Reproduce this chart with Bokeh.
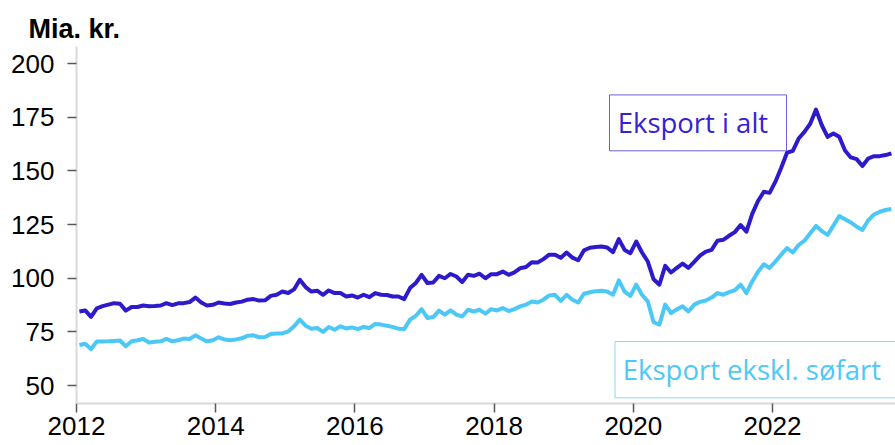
import pandas as pd
from bokeh.plotting import figure
from bokeh.models import Range1d, FixedTicker, Label, BasicTickFormatter
from bokeh.embed import file_html
from bokeh.resources import INLINE

# Monthly data, Jan 2012 - Sep 2023 (Mia. kr.)
start_month = "2012-01"
n_months = 141
eksport_i_alt = [
    84.5, 85.0, 82.0, 86.0, 87.0, 87.7, 88.4, 88.1, 84.9, 86.6, 86.6, 87.3,
    87.0, 87.1, 87.3, 88.4, 87.5, 88.3, 88.4, 88.9, 91.0, 88.7, 87.3, 87.6,
    88.7, 88.2, 88.0, 88.7, 89.1, 90.0, 90.3, 89.6, 89.7, 91.8, 92.3, 93.8,
    93.1, 94.8, 99.3, 95.9, 93.8, 94.2, 92.3, 94.3, 93.1, 93.1, 91.5, 92.0,
    91.0, 92.3, 91.2, 93.1, 92.3, 92.2, 91.5, 91.5, 90.3, 95.4, 97.8, 101.6,
    97.8, 98.0, 101.1, 100.0, 102.0, 100.8, 98.2, 101.6, 101.1, 102.1, 100.0, 101.9,
    101.9, 103.1, 101.6, 102.7, 104.7, 105.2, 107.5, 107.3, 108.9, 111.0, 111.0, 109.5,
    112.0, 109.6, 108.4, 113.0, 114.2, 114.6, 114.8, 114.3, 112.2, 118.2, 113.2, 111.7,
    117.1, 112.0, 107.8, 99.5, 97.0, 105.8, 102.7, 104.8, 106.8, 104.8, 107.6, 110.5,
    112.4, 113.2, 117.5, 117.9, 119.8, 121.5, 124.8, 121.7, 130.0, 136.0, 140.3, 139.8,
    145.0, 151.5, 158.5, 159.4, 165.1, 168.2, 172.0, 178.6, 171.3, 165.9, 167.5, 165.9,
    159.5, 156.3, 155.5, 152.3, 155.8, 156.9, 156.9, 157.4, 158.2,
]
eksport_ekskl_sofart = [
    68.9, 69.5, 67.0, 70.5, 70.5, 70.6, 70.8, 71.0, 68.3, 70.6, 71.1, 71.7,
    70.1, 70.4, 70.6, 71.7, 70.6, 71.1, 71.9, 71.7, 73.4, 71.9, 70.6, 71.1,
    72.5, 71.5, 71.1, 71.5, 72.0, 73.2, 73.4, 72.5, 72.6, 74.0, 74.2, 74.3,
    75.2, 77.6, 80.7, 77.9, 76.5, 76.8, 75.0, 77.3, 76.0, 77.6, 76.6, 77.1,
    76.3, 77.3, 76.8, 78.7, 78.4, 77.9, 77.3, 76.5, 76.3, 80.7, 82.5, 85.6,
    81.5, 81.9, 84.9, 83.0, 85.0, 83.0, 82.2, 85.3, 84.5, 85.3, 83.5, 85.6,
    85.0, 86.1, 84.7, 85.6, 86.9, 87.7, 89.2, 88.7, 90.0, 92.0, 92.3, 89.5,
    92.3, 90.0, 88.7, 92.8, 93.5, 93.9, 94.2, 93.8, 92.3, 99.0, 93.8, 91.8,
    97.0, 92.3, 89.2, 79.5, 78.4, 87.7, 83.8, 85.5, 86.9, 84.5, 87.7, 89.0,
    89.6, 91.0, 93.1, 92.3, 93.5, 94.4, 97.0, 93.1, 98.5, 103.0, 106.5, 104.8,
    107.8, 111.0, 114.0, 112.0, 115.5, 117.5, 121.0, 124.4, 122.0, 120.2, 124.5, 129.0,
    127.5, 126.0, 124.0, 122.5, 127.0, 129.7, 131.0, 131.8, 132.3,
]
x_ticks = [2012, 2014, 2016, 2018, 2020, 2022]
y_ticks = [50, 75, 100, 125, 150, 175, 200]
unit_label = "Mia. kr."
name_total = "Eksport i alt"
name_excl = "Eksport ekskl. søfart"

months = pd.date_range(start_month, periods=n_months, freq="MS")
x = [m.year + (m.month - 0.5) / 12.0 for m in months]

c_dark = "#2D1ACB"
c_light = "#4CC8F7"

p = figure(width=895, height=445, output_backend="svg", toolbar_location=None,
           x_range=Range1d(2012, 2023.767), y_range=Range1d(41.63, 208.0),
           min_border_left=76, min_border_right=0, min_border_top=46,
           min_border_bottom=42)
p.outline_line_color = None
p.xgrid.visible = False
p.ygrid.visible = False
p.background_fill_color = "white"
p.border_fill_color = "white"

p.title.text = unit_label
p.title.text_font = "Liberation Sans"
p.title.text_font_size = "27px"
p.title.text_font_style = "bold"
p.title.text_color = "black"
p.title.align = "left"
p.title.offset = -48
p.title.standoff = 6

p.line(x, eksport_ekskl_sofart, line_width=4, color=c_light, line_join="round")
p.line(x, eksport_i_alt, line_width=4, color=c_dark, line_join="round")

# label boxes
p.quad(left=[2019.658], right=[2022.201], top=[185.43], bottom=[159.39],
       fill_alpha=0, line_color="#6A5FDD", line_width=1)
p.quad(left=[2019.737], right=[2025.0], top=[70.46], bottom=[44.28],
       fill_alpha=0, line_color="#8AD7F7", line_width=1)

p.add_layout(Label(x=2019.775, y=172.6, text=name_total, text_font="Open Sans",
                   text_font_size="27.5px", text_color="#3423CF",
                   text_baseline="alphabetic"))
p.add_layout(Label(x=2019.848, y=57.4, text=name_excl, text_font="Open Sans",
                   text_font_size="27.5px", text_color="#4EC8F4",
                   text_baseline="alphabetic"))

p.xaxis.ticker = FixedTicker(ticks=x_ticks)
p.yaxis.ticker = FixedTicker(ticks=y_ticks)
p.xaxis.formatter = BasicTickFormatter(use_scientific=False)
for ax in (p.xaxis[0], p.yaxis[0]):
    ax.axis_line_color = "#D9D9D9"
    ax.axis_line_width = 2
    ax.major_tick_line_color = "#595959"
    ax.major_tick_line_width = 1.5
    ax.major_tick_out = 9
    ax.major_tick_in = 0
    ax.minor_tick_line_color = None
    ax.major_label_text_font = "Liberation Sans"
    ax.major_label_text_font_size = "26px"
    ax.major_label_text_color = "black"
p.yaxis.major_label_standoff = 13
p.xaxis.major_label_standoff = 4

open("out.html", "w").write(file_html(p, INLINE))
